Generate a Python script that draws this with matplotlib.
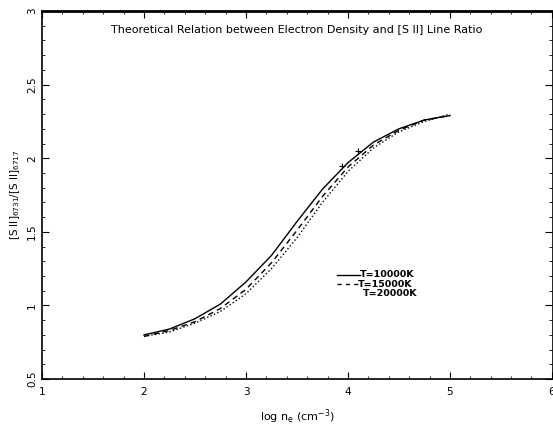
# [S II] line ratio vs electron density

import matplotlib
matplotlib.use("Agg")
import matplotlib.pyplot as plt
from matplotlib.ticker import MultipleLocator, FormatStrFormatter

# データ
log_ne = [2.0, 2.25, 2.5, 2.75, 3.0, 3.25, 3.5, 3.75, 4.0, 4.25, 4.5, 4.75, 5.0]
ratio_10000 = [0.80, 0.84, 0.91, 1.01, 1.16, 1.34, 1.57, 1.79, 1.97, 2.11, 2.20, 2.26, 2.29]
ratio_15000 = [0.79, 0.83, 0.89, 0.98, 1.11, 1.29, 1.51, 1.74, 1.94, 2.09, 2.19, 2.26, 2.29]
ratio_20000 = [0.79, 0.82, 0.88, 0.96, 1.08, 1.25, 1.46, 1.70, 1.91, 2.07, 2.18, 2.25, 2.30]
labels = ["T=10000K", "T=15000K", "T=20000K"]
marks_x = [3.94, 4.10]
marks_y = [1.95, 2.05]

plt.rcParams["font.family"] = "DejaVu Sans"
plt.rcParams["xtick.direction"] = "in"
plt.rcParams["ytick.direction"] = "in"

fig = plt.figure(figsize=(5.53, 4.25), dpi=100)
ax = fig.add_axes([0.076, 0.108, 0.922, 0.866])

ax.plot(log_ne, ratio_10000, "k-", lw=1.0)
ax.plot(log_ne, ratio_15000, "k--", lw=1.0, dashes=(4, 3))
ax.plot(log_ne, ratio_20000, "k:", lw=1.0)
ax.plot(marks_x, marks_y, "k+", ms=4, mew=0.8)

# 凡例
ax.plot([3.89, 4.12], [1.21, 1.21], "k-", lw=1.0)
ax.text(4.12, 1.21, labels[0], fontsize=6.8, fontweight="bold", va="center", ha="left")
ax.plot([3.89, 4.10], [1.145, 1.145], "k--", lw=1.0, dashes=(3, 3))
ax.text(4.10, 1.145, labels[1], fontsize=6.8, fontweight="bold", va="center", ha="left")
ax.text(4.15, 1.08, labels[2], fontsize=6.8, fontweight="bold", va="center", ha="left")

ax.set_xlim(1, 6)
ax.set_ylim(0.5, 3)
ax.xaxis.set_major_locator(MultipleLocator(1))
ax.xaxis.set_minor_locator(MultipleLocator(0.2))
ax.yaxis.set_major_locator(MultipleLocator(0.5))
ax.yaxis.set_minor_locator(MultipleLocator(0.1))
ax.xaxis.set_major_formatter(FormatStrFormatter("%g"))
ax.yaxis.set_major_formatter(FormatStrFormatter("%g"))
ax.tick_params(which="both", top=True, right=True, labelsize=7.5)
ax.tick_params(which="major", length=5)
ax.tick_params(which="minor", length=2.5)
ax.tick_params(axis="x", which="major", pad=6)
for lab in ax.get_yticklabels():
    lab.set_rotation(90)
    lab.set_va("center")

ax.spines["top"].set_linewidth(2.0)
ax.spines["left"].set_linewidth(1.2)
ax.spines["bottom"].set_linewidth(1.2)
ax.spines["right"].set_linewidth(0.6)

ax.text(0.5, 0.948, "Theoretical Relation between Electron Density and [S II] Line Ratio",
        transform=ax.transAxes, ha="center", va="center", fontsize=8)
ax.set_xlabel(r"log n$_{\rm e}$ (cm$^{-3}$)", fontsize=8, labelpad=7)
ax.set_ylabel(r"[S II]$_{6731}$/[S II]$_{6717}$", fontsize=7.5)

fig.savefig("out.png", dpi=100)
